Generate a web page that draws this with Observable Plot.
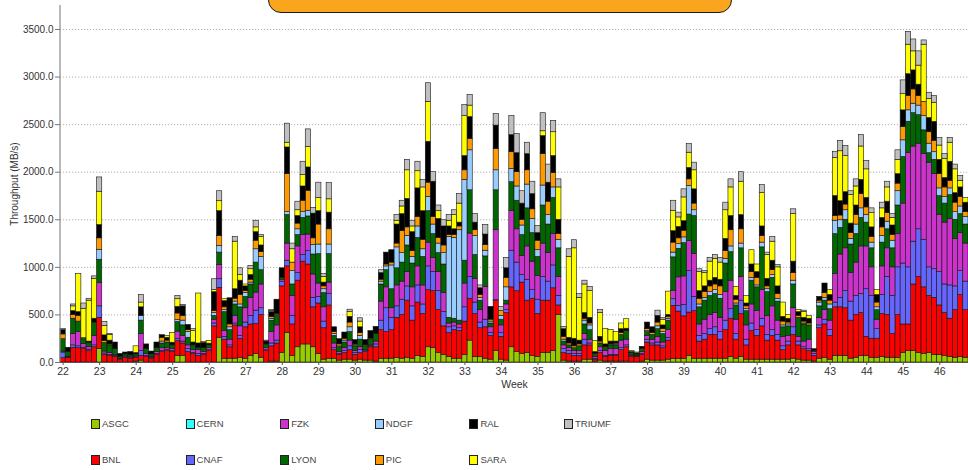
<!DOCTYPE html>
<html>
<head>
<meta charset="utf-8">
<script src="https://cdn.jsdelivr.net/npm/d3@7"></script>
<script src="https://cdn.jsdelivr.net/npm/@observablehq/plot@0.6"></script>
<style>
  body { margin: 0; background: #fff; font-family: "Liberation Sans", Arial, sans-serif; }
  #wrap { position: relative; width: 968px; height: 470px; overflow: hidden; }
  #chart svg { display: block; }
  #banner { position: absolute; left: 268px; top: -20px; width: 462px; height: 31px;
            background: #f9a51e; border: 1.5px solid #1a1a1a; border-radius: 13px; z-index: 2; }
  .item { position: absolute; display: flex; align-items: center; font-size: 9.5px; color: #444; line-height: 10px; }
  .sw { width: 7px; height: 8px; border: 1px solid #222; margin-right: 2px; box-sizing: content-box; }
</style>
</head>
<body>
<div id="wrap">
  <div id="chart"></div>
  <div id="banner"></div>
  <div id="legend"></div>
</div>
<script>
// Sites in stacking order (bottom -> top) and their colours
const sites  = ["ASGC","BNL","CERN","CNAF","FZK","LYON","NDGF","PIC","RAL","SARA","TRIUMF"];
const colors = ["#99cc00","#ff0000","#33ffff","#6666ff","#cc33cc","#006600","#99ccff","#ff9900","#000000","#ffff00","#c0c0c0"];

// Week tick labels (one tick at the first day of each week)
const weeks = [22,23,24,25,26,27,28,29,30,31,32,33,34,35,36,37,38,39,40,41,42,43,44,45,46];

// Daily throughput per site (MB/s), one line per week
const ASGC = [
  0,0,0,0,0,0,0,
  140,0,0,0,0,0,0,
  10,20,0,0,0,0,0,
  0,70,70,0,0,0,0,
  0,0,260,40,40,40,50,
  40,70,90,50,0,10,10,
  100,310,70,160,190,190,160,
  90,30,40,40,20,30,30,
  20,30,20,20,10,40,40,
  40,50,40,50,40,70,60,
  160,150,100,80,60,40,40,
  80,230,60,60,40,30,120,
  30,20,160,110,90,100,70,
  60,100,100,120,500,20,10,
  10,10,30,30,10,20,10,
  10,10,10,10,0,0,10,
  30,20,20,20,30,35,35,
  35,70,40,40,40,40,40,
  40,40,60,40,60,30,30,
  30,30,30,30,30,30,30,
  40,30,20,20,10,40,50,
  30,70,70,70,40,50,70,
  70,50,50,60,50,50,50,
  100,120,120,100,90,100,80,
  80,70,60,50,60,50
];
const BNL = [
  45,50,155,150,140,120,160,
  330,80,70,60,30,50,40,
  40,50,60,40,80,110,120,
  110,155,130,110,90,70,80,
  120,380,525,200,120,350,200,
  330,330,315,450,120,160,190,
  700,700,330,700,870,840,420,
  530,330,560,90,60,70,100,
  60,70,90,140,150,300,280,
  300,420,460,600,400,560,450,
  600,600,450,300,250,300,290,
  350,440,450,300,330,250,525,
  240,500,630,640,750,550,600,
  450,550,550,660,100,80,80,
  60,60,150,150,20,80,50,
  60,60,120,150,60,60,70,
  180,160,160,130,200,560,500,
  450,455,500,180,200,250,250,
  200,300,400,200,450,150,300,
  250,350,200,250,200,100,150,
  250,150,120,100,60,320,350,
  250,510,510,500,400,450,450,
  200,200,200,450,450,250,450,
  300,280,700,800,700,600,600,
  520,450,400,500,650,500
];
const CERN = [
  0,0,0,0,0,0,0, 0,0,0,0,0,0,0, 0,0,0,0,0,0,0, 0,0,0,0,0,0,0, 0,0,0,0,0,0,0,
  0,0,0,0,0,0,0, 0,0,0,0,0,0,0, 0,0,0,0,0,0,0, 0,0,0,0,0,0,0, 0,0,0,0,0,0,0,
  0,0,0,0,0,0,0, 0,0,0,0,0,0,0, 0,0,0,0,0,0,0, 0,0,0,0,0,0,0, 0,0,0,0,0,0,0,
  0,0,0,0,0,0,0, 0,0,0,0,0,0,0, 0,0,0,0,0,0,0, 0,0,0,0,0,0,0, 0,0,0,0,0,0,0,
  0,0,0,0,0,0,0, 0,0,0,0,0,0,0, 0,0,0,0,0,0,0, 0,0,0,0,0,0,0, 0,0,0,0,0,0
];
const CNAF = [
  60,5,25,20,15,15,20,
  120,15,10,10,5,5,5,
  5,50,10,10,10,10,10,
  10,20,20,30,10,20,10,
  10,30,90,30,20,20,30,
  50,90,140,70,10,30,30,
  50,60,90,80,70,140,100,
  70,70,120,20,10,20,40,
  20,30,10,10,30,100,250,
  130,120,160,150,150,180,100,
  250,200,200,150,60,40,30,
  150,230,120,60,80,30,10,
  40,30,385,300,80,220,90,
  150,250,200,240,100,40,30,
  20,20,60,20,10,20,10,
  10,10,20,20,10,5,10,
  30,20,30,20,30,70,60,
  120,435,150,60,60,60,80,
  80,100,100,60,140,60,80,
  60,80,60,60,60,40,40,
  80,40,20,20,20,30,50,
  60,50,100,180,200,200,200,
  500,450,100,200,400,400,500,
  640,600,450,500,500,300,300,
  350,300,350,250,250,300
];
const FZK = [
  10,5,120,150,40,30,100,
  245,20,20,10,5,10,10,
  10,180,20,10,20,30,20,
  20,80,60,40,30,40,20,
  20,40,150,60,60,80,100,
  150,190,190,250,20,120,160,
  20,180,210,280,210,175,245,
  140,150,120,50,20,30,60,
  20,30,10,10,30,200,220,
  100,220,190,150,200,200,200,
  250,150,200,200,40,40,40,
  250,455,250,130,345,60,735,
  80,60,420,350,200,350,300,
  250,350,300,330,200,40,30,
  30,30,60,40,20,40,50,
  60,60,80,60,10,5,20,
  40,40,60,40,80,90,300,
  300,315,450,120,150,150,150,
  150,300,300,150,250,150,200,
  200,300,200,250,150,100,60,
  200,50,60,100,20,80,100,
  100,300,455,450,300,350,500,
  450,300,100,300,300,300,350,
  630,1200,1000,900,900,1100,1000,
  600,650,700,500,400,400
];
const LYON = [
  130,50,160,110,60,40,140,
  245,90,80,60,20,20,20,
  20,140,50,25,40,50,60,
  40,100,110,80,50,20,40,
  30,40,130,200,100,120,200,
  120,140,315,150,40,120,100,
  20,300,120,120,180,190,210,
  310,150,300,80,50,60,90,
  50,80,40,60,80,180,180,
  200,180,200,280,250,300,300,
  330,250,200,300,60,40,40,
  240,455,250,100,320,40,420,
  60,40,300,300,220,400,300,
  200,400,300,380,300,40,30,
  30,50,100,100,20,40,30,
  40,40,60,80,20,15,20,
  40,50,80,90,100,350,300,
  350,280,400,180,200,200,200,
  200,300,300,150,300,150,250,
  250,450,250,300,200,100,100,
  250,200,180,150,10,120,100,
  120,420,280,300,300,300,300,
  250,200,100,250,200,200,300,
  490,330,350,300,250,100,150,
  200,200,250,200,200,200
];
const NDGF = [
  0,0,0,0,0,0,0,
  105,0,0,0,0,0,0,
  0,50,0,0,0,20,0,
  0,20,50,60,0,0,0,
  0,30,70,20,30,30,30,
  40,20,140,140,0,20,10,
  0,30,140,60,60,60,100,
  100,40,100,20,10,20,50,
  10,40,0,0,0,30,40,
  250,220,100,100,70,120,80,
  150,100,100,120,850,850,950,
  850,420,200,30,60,20,210,
  40,140,140,150,100,250,150,
  70,210,100,110,90,20,0,
  0,0,40,50,0,0,0,
  0,10,0,0,0,0,0,
  10,0,30,20,20,50,50,
  60,300,60,30,30,40,40,
  40,50,60,20,50,20,30,
  20,50,30,30,30,20,20,
  40,0,10,0,0,40,30,
  50,140,80,100,60,100,100,
  80,60,30,70,80,80,150,
  175,120,100,100,150,100,80,
  80,70,70,80,80,80
];
const PIC = [
  50,0,40,60,0,0,0,
  120,20,10,0,0,0,0,
  0,0,0,0,0,40,20,
  0,70,50,20,0,0,0,
  0,20,105,30,30,30,100,
  20,30,90,50,0,20,10,
  0,400,90,60,120,210,70,
  210,30,160,20,20,20,50,
  10,30,10,10,0,20,20,
  30,40,230,90,60,100,100,
  150,80,60,80,20,30,40,
  100,120,60,30,60,20,225,
  50,100,175,150,60,150,100,
  100,330,140,150,60,30,20,
  20,20,20,20,10,20,10,
  10,10,20,10,0,0,10,
  20,20,40,30,20,105,60,
  70,70,70,60,60,60,60,
  90,80,170,40,150,30,60,
  80,70,30,50,50,40,20,
  80,20,20,20,0,20,50,
  40,50,50,60,60,100,150,
  80,60,50,90,90,60,80,
  140,150,150,100,150,120,120,
  150,100,80,100,100,50
];
const RAL = [
  45,45,40,40,0,15,40,
  140,60,40,70,30,20,35,
  15,90,50,30,60,27,30,
  28,70,100,55,30,50,57,
  18,200,260,65,275,100,150,
  50,50,90,70,30,50,150,
  100,280,0,80,150,245,260,
  140,40,175,50,55,65,60,
  45,60,55,80,75,70,125,
  130,200,180,300,200,300,300,
  430,370,200,200,90,60,40,
  150,230,80,70,110,135,245,
  0,100,180,200,170,170,160,
  80,190,200,180,150,80,60,
  80,40,60,60,20,50,30,
  30,20,40,25,10,10,25,
  70,60,70,40,20,120,120,
  100,120,150,80,60,60,70,
  70,130,150,40,150,30,80,
  60,100,80,100,80,50,40,
  120,40,40,50,20,40,100,
  60,210,150,130,100,100,150,
  100,100,80,100,120,100,100,
  175,230,200,120,0,150,200,
  150,100,200,100,100,100
];
const SARA = [
  0,0,50,400,310,430,420,
  350,100,60,0,0,0,0,
  70,50,0,0,0,0,20,
  100,80,0,0,120,525,10,
  30,20,105,20,0,500,60,
  20,60,50,90,0,10,0,
  0,50,140,60,120,215,0,
  140,60,140,0,0,0,50,
  0,60,0,0,0,0,0,
  0,40,80,300,60,180,250,
  420,0,80,0,60,150,200,
  420,120,0,0,0,0,0,
  0,0,0,0,0,0,0,
  0,50,0,250,340,0,850,
  950,450,300,280,118,250,160,
  120,100,60,100,10,10,0,
  0,0,0,60,245,210,100,
  250,160,200,200,140,200,200,
  180,300,300,95,350,80,150,
  80,350,250,200,200,150,40,
  500,20,60,30,0,0,0,
  50,400,525,380,300,200,350,
  300,150,50,100,150,80,150,
  170,310,200,200,600,200,200,
  150,200,200,250,70,50
];
const TRIUMF = [
  10,0,20,0,55,20,25,
  150,40,10,0,0,0,0,
  0,80,0,0,0,0,0,
  0,35,15,0,20,0,0,
  0,115,105,0,0,50,70,
  0,35,70,20,10,10,0,
  0,200,60,90,140,185,60,
  160,30,170,0,0,0,25,
  0,35,0,0,0,30,0,
  0,60,60,110,60,100,80,
  195,100,60,65,60,50,100,
  115,110,90,30,100,0,120,
  45,110,200,200,130,120,130,
  75,190,190,120,85,25,80,
  85,38,40,45,0,30,0,
  0,0,0,0,0,0,0,
  0,0,55,20,0,110,50,
  85,90,80,30,20,40,40,
  50,80,85,0,100,0,0,
  0,85,25,50,25,0,0,
  50,0,15,0,0,0,0,
  0,65,110,105,40,75,120,
  90,50,0,60,60,40,100,
  145,135,125,150,45,65,70,
  80,50,50,50,50,0
];

const yTicks = [0,500,1000,1500,2000,2500,3000,3500];

// ---- build table for the library ----
const series = {ASGC, BNL, CERN, CNAF, FZK, LYON, NDGF, PIC, RAL, SARA, TRIUMF};
const nDays = ASGC.length;
const days = d3.range(nDays);
const rows = [];
for (const s of sites) series[s].forEach((v, i) => { if (v > 0) rows.push({day: i, site: s, value: v}); });
const weekStartDays = weeks.map((w, i) => i * 7);

// left axis line drawn from the frame dimensions
const leftLine = (index, scales, values, dim) => {
  const l = document.createElementNS("http://www.w3.org/2000/svg", "line");
  l.setAttribute("x1", dim.marginLeft); l.setAttribute("x2", dim.marginLeft);
  l.setAttribute("y1", dim.marginTop); l.setAttribute("y2", dim.height - dim.marginBottom);
  l.setAttribute("stroke", "#8a8a8a"); l.setAttribute("stroke-width", 1.2);
  return l;
};

const chart = Plot.plot({
  width: 968, height: 395,
  marginLeft: 60, marginRight: 0, marginTop: 5, marginBottom: 33,
  style: {fontFamily: "'Liberation Sans', Arial, sans-serif", fontSize: "10px", color: "#333", background: "transparent"},
  x: {type: "band", domain: days, padding: 0, axis: null},
  y: {domain: [0, 3752], axis: null},
  color: {domain: sites, range: colors},
  marks: [
    Plot.gridY(yTicks.slice(1), {stroke: "#9a9a9a", strokeOpacity: 1, strokeDasharray: "1.2,1.8", strokeWidth: 0.8}),
    Plot.barY(rows, {x: "day", y: "value", fill: "site", order: sites, stroke: "#141414", strokeWidth: 0.6}),
    Plot.ruleY([0], {stroke: "#555", strokeWidth: 1}),
    Plot.axisY(yTicks, {tickFormat: d3.format(".1f"), tickSize: 5, tickPadding: 2, fontSize: 10, stroke: "#777",
      label: "Throughput (MB/s)", labelArrow: "none", labelAnchor: "center", labelOffset: 50}),
    Plot.axisX(weekStartDays, {tickFormat: d => weeks[d / 7], tickSize: 3, tickPadding: 2, fontSize: 10.5, stroke: "#555",
      label: "Week", labelArrow: "none", labelAnchor: "center", labelOffset: 25}),
    leftLine
  ]
});
document.getElementById("chart").appendChild(chart);

// ---- legend (two rows, column-major) ----
const legend = document.getElementById("legend");
sites.forEach((s, i) => {
  const col = Math.floor(i / 2), row = i % 2;
  const it = document.createElement("div");
  it.className = "item";
  it.style.left = (91 + col * 94.6) + "px";
  it.style.top = (419 + row * 36) + "px";
  it.innerHTML = `<span class="sw" style="background:${colors[i]}"></span>${s}`;
  legend.appendChild(it);
});
</script>
</body>
</html>
